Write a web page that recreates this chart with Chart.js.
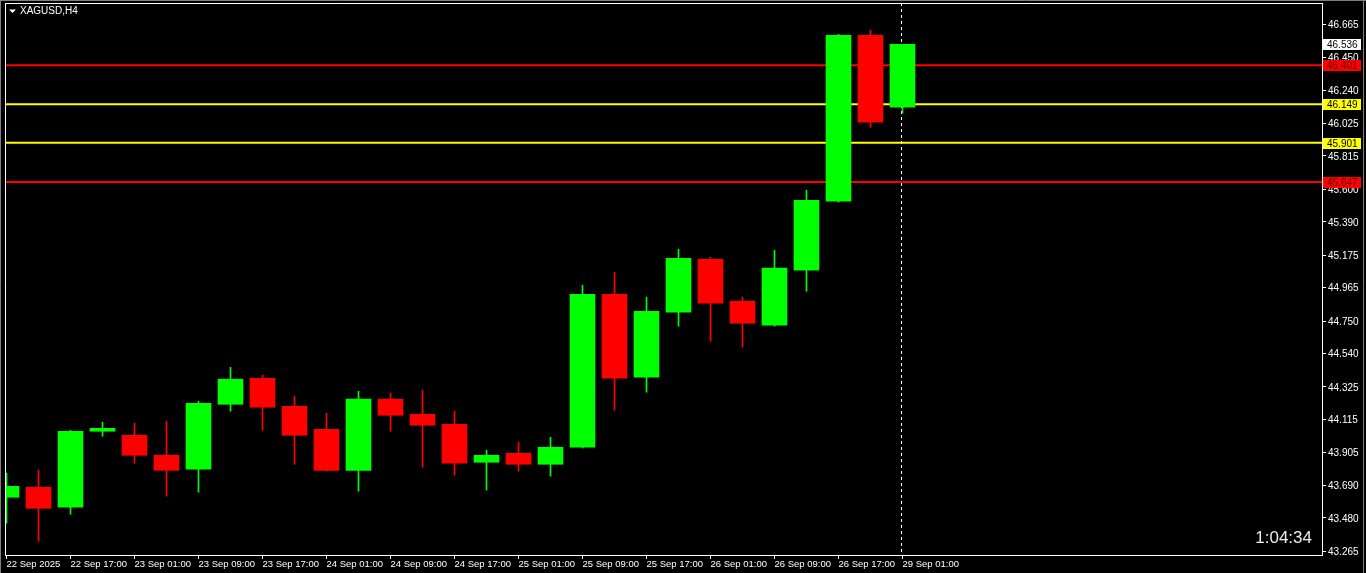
<!DOCTYPE html>
<html>
<head>
<meta charset="utf-8">
<script src="https://cdn.jsdelivr.net/npm/chart.js@4.4.1/dist/chart.umd.min.js"></script>
<style>
  html, body { margin: 0; padding: 0; background: #000; overflow: hidden; }
  canvas { display: block; }
</style>
</head>
<body>
<canvas id="myChart" width="1366" height="573"></canvas>
<script>
// XAGUSD H4 candles, 22 Sep 09:00 -> 29 Sep 01:00
const times = [
  "22 Sep 09:00", "22 Sep 13:00", "22 Sep 17:00", "22 Sep 21:00",
  "23 Sep 01:00", "23 Sep 05:00", "23 Sep 09:00", "23 Sep 13:00", "23 Sep 17:00", "23 Sep 21:00",
  "24 Sep 01:00", "24 Sep 05:00", "24 Sep 09:00", "24 Sep 13:00", "24 Sep 17:00", "24 Sep 21:00",
  "25 Sep 01:00", "25 Sep 05:00", "25 Sep 09:00", "25 Sep 13:00", "25 Sep 17:00", "25 Sep 21:00",
  "26 Sep 01:00", "26 Sep 05:00", "26 Sep 09:00", "26 Sep 13:00", "26 Sep 17:00", "26 Sep 21:00",
  "29 Sep 01:00"
];
const opens = [43.613, 43.678, 43.549, 44.039, 44.013, 43.884, 43.794, 44.213, 44.381, 44.200,
  44.052, 43.787, 44.246, 44.149, 44.084, 43.839, 43.897, 43.826, 43.936, 44.923,
  44.388, 44.807, 45.149, 44.878, 44.723, 45.078, 45.523, 46.594, 46.130];
const highs = [43.768, 43.788, 44.045, 44.097, 44.091, 44.104, 44.233, 44.452, 44.400, 44.265,
  44.155, 44.297, 44.284, 44.304, 44.168, 43.917, 43.968, 44.000, 44.981, 45.065,
  44.904, 45.213, 45.162, 44.904, 45.207, 45.594, 46.600, 46.626, 46.536];
const lows = [43.446, 43.329, 43.504, 44.007, 43.833, 43.620, 43.646, 44.168, 44.045, 43.826,
  43.781, 43.652, 44.039, 43.807, 43.755, 43.659, 43.781, 43.749, 43.930, 44.175,
  44.291, 44.717, 44.620, 44.581, 44.717, 44.942, 45.517, 46.000, 46.091];
const closes = [43.684, 43.542, 44.039, 44.058, 43.884, 43.787, 44.220, 44.375, 44.194, 44.013,
  43.787, 44.246, 44.142, 44.078, 43.833, 43.884, 43.826, 43.936, 44.923, 44.381,
  44.813, 45.155, 44.865, 44.736, 45.091, 45.529, 46.594, 46.033, 46.536];

const xTickIndexes = [0, 2, 4, 6, 8, 10, 12, 14, 16, 18, 20, 22, 24, 26, 28];
const xTickLabels = ["22 Sep 2025", "22 Sep 17:00", "23 Sep 01:00", "23 Sep 09:00", "23 Sep 17:00",
  "24 Sep 01:00", "24 Sep 09:00", "24 Sep 17:00", "25 Sep 01:00", "25 Sep 09:00",
  "25 Sep 17:00", "26 Sep 01:00", "26 Sep 09:00", "26 Sep 17:00", "29 Sep 01:00"];
const yTicks = [46.665, 46.450, 46.240, 46.025, 45.815, 45.600, 45.390, 45.175, 44.965,
  44.750, 44.540, 44.325, 44.115, 43.905, 43.690, 43.480, 43.265];

const levels = [46.401, 46.149, 45.901, 45.647];
const currentPrice = 46.536;
const symbolName = "XAGUSD,H4";
const countdown = "1:04:34";

const UP = "#00ff00";
const DOWN = "#ff0000";
const levelColors = ["#ff0000", "#ffff00", "#ffff00", "#ff0000"];
const levelTextColors = ["#5c0000", "#000000", "#000000", "#5c0000"];
const FONT = "'Liberation Sans', Arial, sans-serif";

const xMin = -0.046875;
const xMax = 41.11;

let candleColors = opens.map((o, i) => (closes[i] >= o ? UP : DOWN));

let bodies = opens.map((o, i) => ({ x: i, y: [o, closes[i]] }));
let wicks = lows.map((l, i) => ({ x: i, y: [l, highs[i]] }));

let levelSets = levels.map((v, i) => ({
  type: "line",
  data: [{ x: xMin, y: v }, { x: xMax, y: v }],
  borderColor: levelColors[i],
  borderWidth: 2,
  pointRadius: 0,
  order: 3,
}));

const decorPlugin = {
  id: "decor",
  beforeDatasetsDraw(chart) {
    const { ctx, chartArea, scales } = chart;
    // dashed marker on the current candle
    let x = Math.round(scales.x.getPixelForValue(times.length - 1)) - 0.5;
    ctx.save();
    ctx.strokeStyle = "#ffffff";
    ctx.lineWidth = 1;
    ctx.setLineDash([3, 3]);
    ctx.beginPath();
    ctx.moveTo(x, chartArea.top);
    ctx.lineTo(x, chartArea.bottom);
    ctx.stroke();
    ctx.restore();
  },
  afterDraw(chart) {
    const { ctx, chartArea, scales } = chart;
    ctx.save();
    // window edges
    ctx.strokeStyle = "#808080";
    ctx.lineWidth = 1;
    ctx.beginPath();
    ctx.moveTo(0.5, 0); ctx.lineTo(0.5, 573);
    ctx.moveTo(0, 0.5); ctx.lineTo(1366, 0.5);
    ctx.moveTo(1363.5, 0); ctx.lineTo(1363.5, 573);
    ctx.stroke();
    // plot frame
    ctx.strokeStyle = "#ffffff";
    ctx.strokeRect(chartArea.left + 0.5, chartArea.top + 0.5,
      chartArea.right - chartArea.left, chartArea.bottom - chartArea.top);

    // symbol title
    ctx.fillStyle = "#ffffff";
    ctx.beginPath();
    ctx.moveTo(9, 9.5); ctx.lineTo(16, 9.5); ctx.lineTo(12.5, 13);
    ctx.closePath();
    ctx.fill();
    ctx.font = "10px " + FONT;
    ctx.textBaseline = "middle";
    ctx.textAlign = "left";
    ctx.fillText(symbolName, 20, 11.5);

    // price labels on the axis
    const boxLeft = chartArea.right + 1;
    const drawTag = (v, bg, fg) => {
      let y = Math.round(scales.y.getPixelForValue(v));
      ctx.fillStyle = bg;
      ctx.fillRect(boxLeft, y - 5, 38, 11);
      ctx.fillStyle = fg;
      ctx.font = "10px " + FONT;
      ctx.textBaseline = "middle";
      ctx.fillText(v.toFixed(3), boxLeft + 4, y + 1);
    };
    levels.forEach((v, i) => drawTag(v, levelColors[i], levelTextColors[i]));
    drawTag(currentPrice, "#ffffff", "#000000");

    // bar timer
    ctx.fillStyle = "#ececec";
    ctx.font = "17px " + FONT;
    ctx.textAlign = "right";
    ctx.textBaseline = "alphabetic";
    ctx.fillText(countdown, 1312, 543);
    ctx.restore();
  },
};

const myChart = new Chart(document.getElementById("myChart"), {
  type: "bar",
  data: {
    datasets: [
      {
        data: bodies,
        backgroundColor: candleColors,
        barThickness: 25,
        minBarLength: 1,
        grouped: false,
        order: 0,
      },
      {
        data: wicks,
        backgroundColor: candleColors,
        barThickness: 1,
        grouped: false,
        order: 1,
      },
      ...levelSets,
    ],
  },
  options: {
    responsive: false,
    animation: false,
    events: [],
    layout: { padding: { left: 5, top: 3, right: 0, bottom: 0 } },
    plugins: { legend: { display: false }, tooltip: { enabled: false } },
    scales: {
      x: {
        type: "linear",
        offset: false,
        min: xMin,
        max: xMax,
        afterBuildTicks: (scale) => {
          scale.ticks = xTickIndexes.map((v) => ({ value: v }));
        },
        afterFit: (scale) => {
          scale.height = 18;
          scale.paddingLeft = 0;
          scale.paddingRight = 0;
        },
        grid: { offset: false, drawOnChartArea: false, drawTicks: true, tickLength: 4, color: "#ffffff" },
        border: { display: false },
        ticks: {
          autoSkip: false,
          maxRotation: 0,
          align: "start",
          padding: 0,
          color: "#ffffff",
          font: { family: FONT, size: 9.5 },
          callback: (v) => xTickLabels[xTickIndexes.indexOf(v)],
        },
      },
      y: {
        type: "linear",
        position: "right",
        min: 43.2407,
        max: 46.802,
        afterBuildTicks: (scale) => {
          scale.ticks = yTicks.map((v) => ({ value: v }));
        },
        afterFit: (scale) => {
          scale.width = 44;
          scale.paddingTop = 0;
          scale.paddingBottom = 0;
        },
        grid: { drawOnChartArea: false, drawTicks: true, tickLength: 4, color: "#ffffff" },
        border: { display: false },
        ticks: {
          autoSkip: false,
          crossAlign: "near",
          padding: 2,
          labelOffset: 1,
          color: "#ffffff",
          font: { family: FONT, size: 10 },
          callback: (v) => v.toFixed(3),
        },
      },
    },
  },
  plugins: [decorPlugin],
});
</script>
</body>
</html>
